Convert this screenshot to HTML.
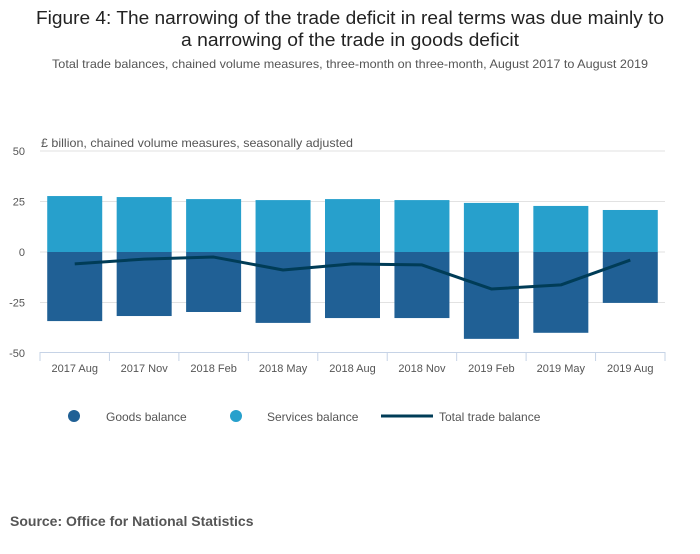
<!DOCTYPE html>
<html><head><meta charset="utf-8"><style>
body{margin:0;background:#fff;width:700px;height:549px;overflow:hidden;font-family:"Liberation Sans",sans-serif}
</style></head><body>
<svg id="chart" width="700" height="549" xmlns="http://www.w3.org/2000/svg" font-family="Liberation Sans, sans-serif">
<text x="350" y="24" text-anchor="middle" font-size="18" fill="#222" textLength="628" lengthAdjust="spacingAndGlyphs">Figure 4: The narrowing of the trade deficit in real terms was due mainly to</text>
<text x="350" y="46" text-anchor="middle" font-size="18" fill="#222" textLength="338" lengthAdjust="spacingAndGlyphs">a narrowing of the trade in goods deficit</text>
<text x="350" y="68" text-anchor="middle" font-size="12" fill="#555" textLength="596" lengthAdjust="spacingAndGlyphs">Total trade balances, chained volume measures, three-month on three-month, August 2017 to August 2019</text>
<text x="41" y="147" font-size="12" fill="#555" textLength="312" lengthAdjust="spacingAndGlyphs">£ billion, chained volume measures, seasonally adjusted</text>
<g id="grid"></g><g id="bars"></g><g id="line"></g><g id="xaxis"></g>
<g>
<circle cx="74" cy="416" r="6" fill="#206095"/>
<text x="106" y="421" font-size="12" fill="#555">Goods balance</text>
<circle cx="236" cy="416" r="6" fill="#27a0cc"/>
<text x="267" y="421" font-size="12" fill="#555">Services balance</text>
<line x1="381" y1="416" x2="433" y2="416" stroke="#003c57" stroke-width="3"/>
<text x="439" y="421" font-size="12" fill="#555">Total trade balance</text>
</g>
<text x="10" y="526" font-size="14" font-weight="bold" fill="#555">Source: Office for National Statistics</text>
</svg>
<script>
const categories=["2017 Aug","2017 Nov","2018 Feb","2018 May","2018 Aug","2018 Nov","2019 Feb","2019 May","2019 Aug"];
const goods=[-34.2,-31.7,-29.7,-35.1,-32.7,-32.7,-43,-40,-25.2];
const services=[27.7,27.2,26.2,25.7,26.2,25.7,24.3,22.8,20.8];
const total=[-5.9,-3.5,-2.5,-8.9,-5.9,-6.4,-18.3,-16.3,-4];
const yTicks=[50,25,0,-25,-50];
const NS="http://www.w3.org/2000/svg";
const x0=40,x1=665,bw=(x1-x0)/categories.length;
function y(v){return 252-v*2.02;}
function xc(i){return x0+bw*(i+0.5);}
function mk(t,a,p){const e=document.createElementNS(NS,t);for(const k in a)e.setAttribute(k,a[k]);p.appendChild(e);return e;}
const grid=document.getElementById('grid'),bars=document.getElementById('bars'),line=document.getElementById('line'),xa=document.getElementById('xaxis');
yTicks.forEach(v=>{
 if(v!==-50){const l=mk('line',{x1:x0,x2:x1,y1:y(v),y2:y(v),stroke:'#e2e2e2'},grid);
 
 }
 const t=mk('text',{x:25,y:y(v)+4,'text-anchor':'end','font-size':11,fill:'#555'},grid);t.textContent=v;
 
 
});
const ax=mk('line',{x1:x0,x2:x1,y1:352.5,y2:352.5,stroke:'#c6d3e6'},xa);


for(let i=0;i<=categories.length;i++){const tk=mk('line',{x1:x0+bw*i,x2:x0+bw*i,y1:352,y2:361,stroke:'#c6d3e6'},xa);
 
 }
categories.forEach((c,i)=>{
 const w=55,bx=xc(i)-w/2;
 const s=mk('rect',{x:bx,y:y(services[i]),width:w,height:y(0)-y(services[i]),fill:'#27a0cc'},bars);
 
 
 const g=mk('rect',{x:bx,y:y(0),width:w,height:y(goods[i])-y(0),fill:'#206095'},bars);
 
 
 const t=mk('text',{x:xc(i),y:372,'text-anchor':'middle','font-size':11,fill:'#555'},xa);t.textContent=c;
 
 
});
const p=mk('polyline',{points:total.map((v,i)=>xc(i)+','+y(v)).join(' '),fill:'none',stroke:'#003c57','stroke-width':3,'stroke-linejoin':'round'},line);


</script>
</body></html>
